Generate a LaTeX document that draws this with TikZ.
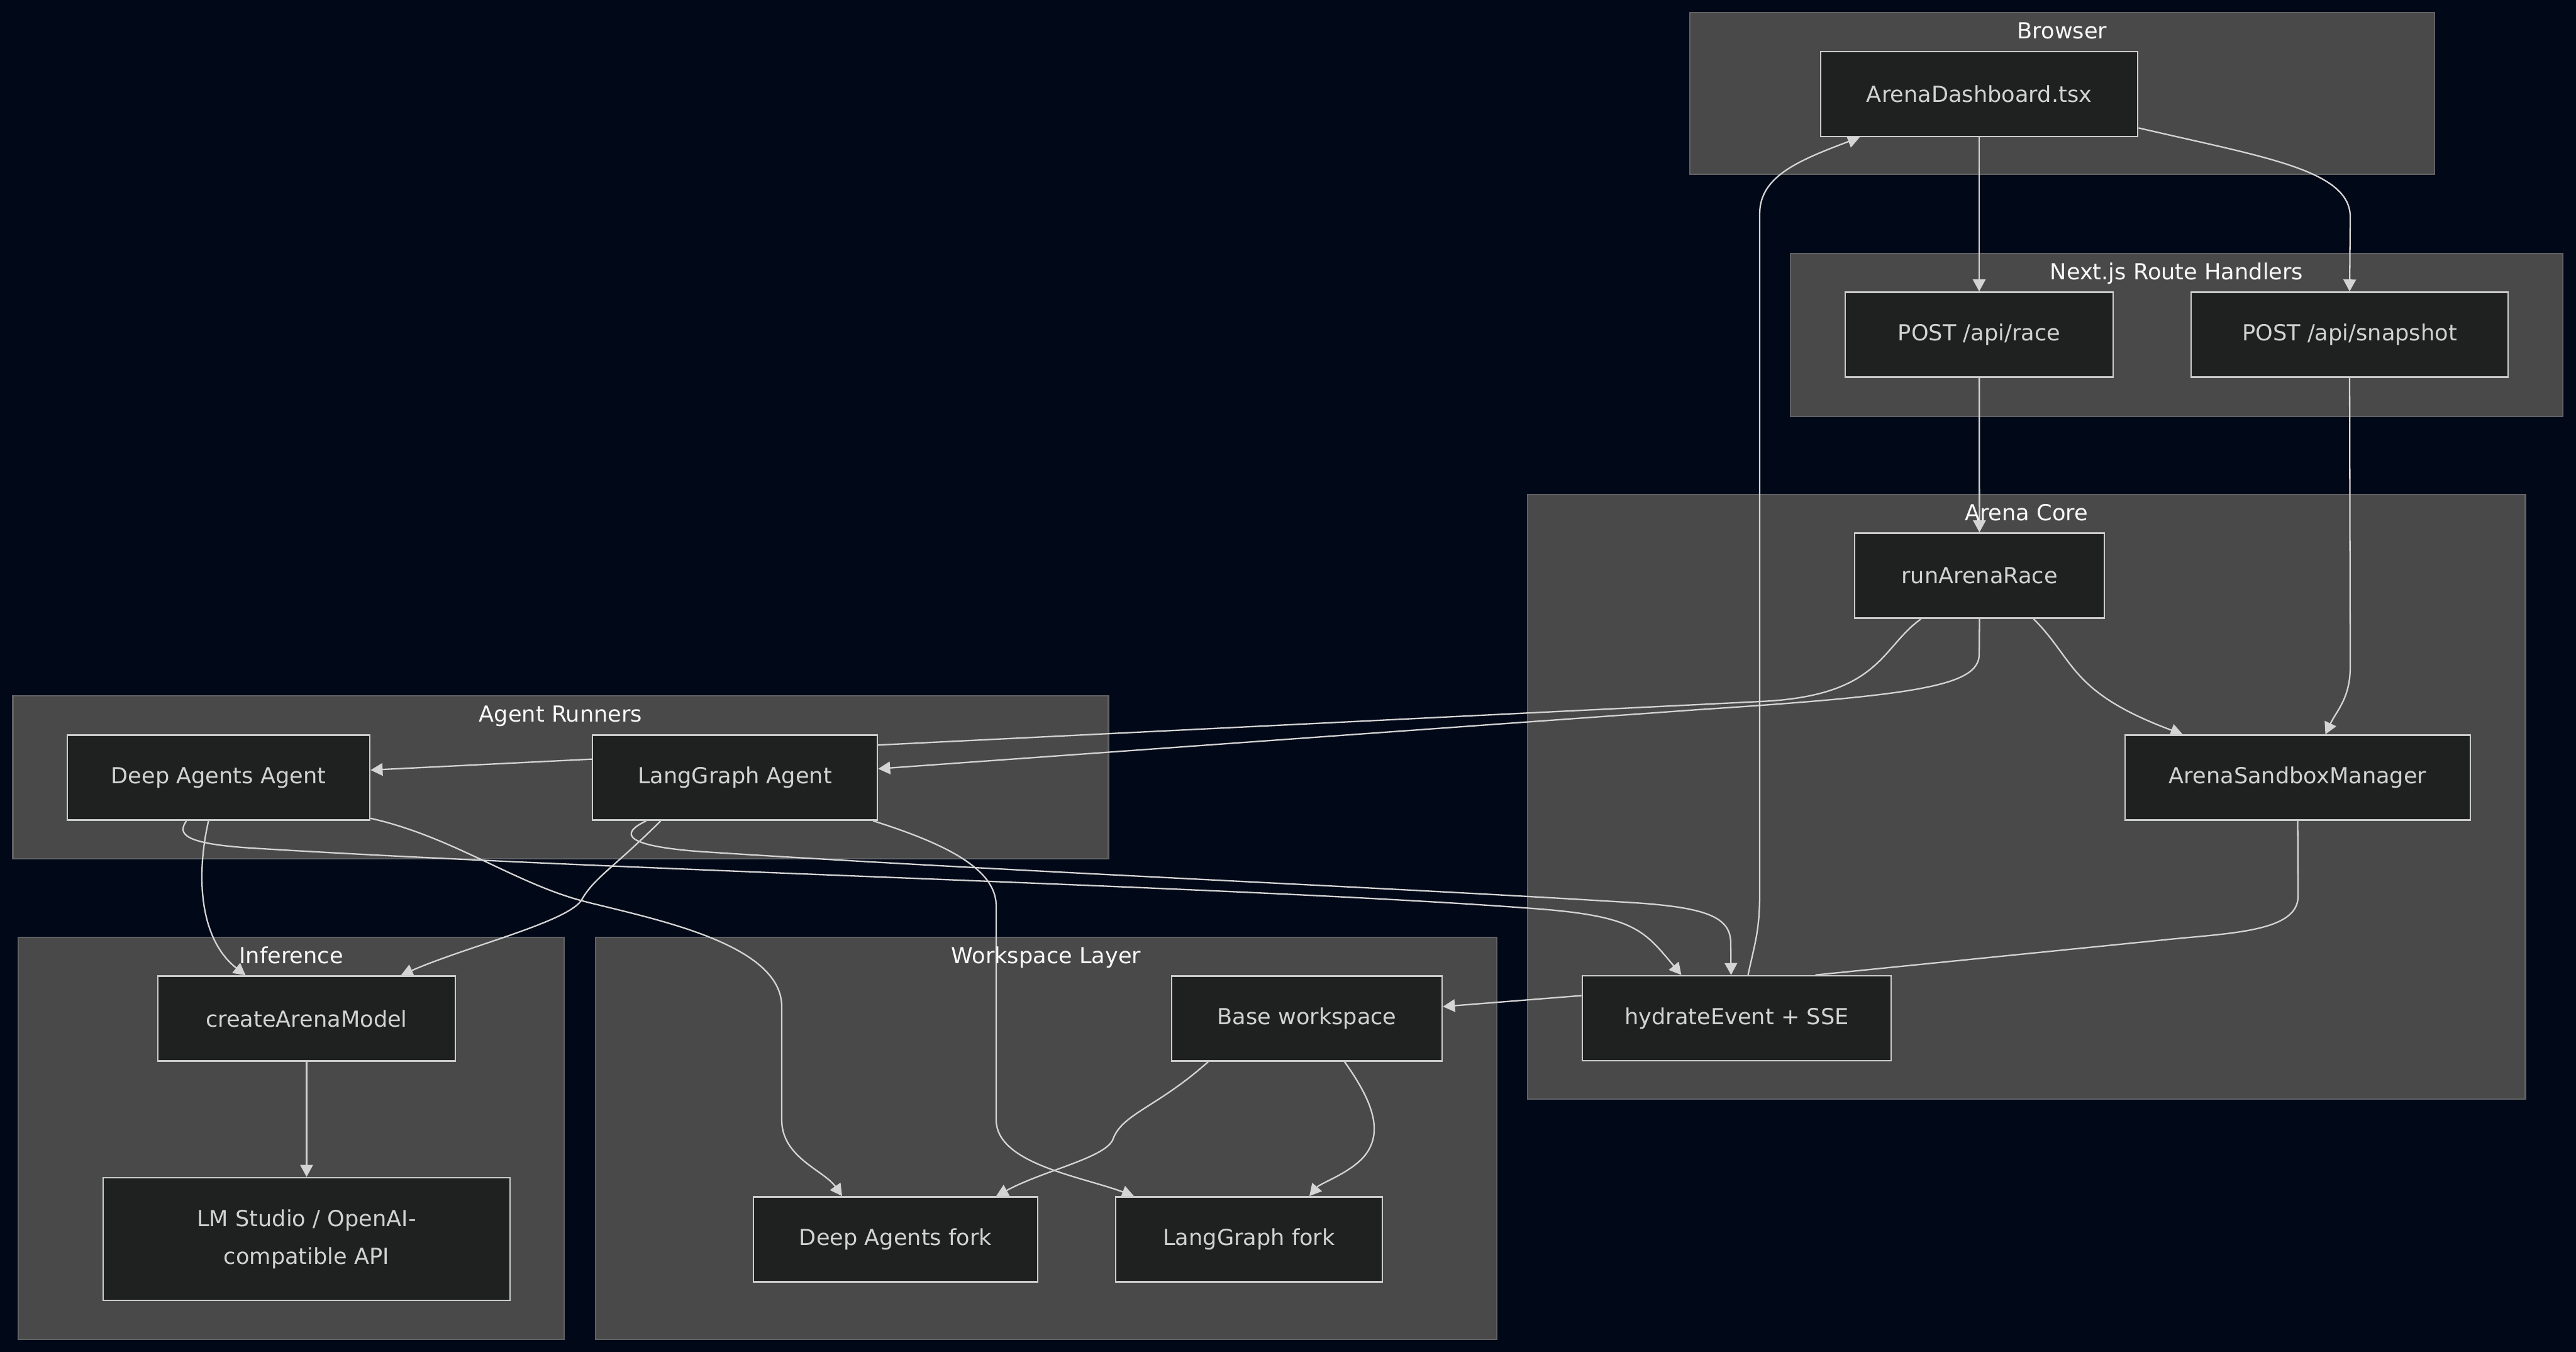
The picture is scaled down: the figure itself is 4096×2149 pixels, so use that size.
\documentclass[tikz,border=0pt]{standalone}
\usepackage{fontspec}
\setsansfont{DejaVu Sans}
\usetikzlibrary{positioning,arrows.meta,calc}

\definecolor{pagebg}{RGB}{1,8,23}
\definecolor{clusterfill}{RGB}{72,73,72}
\definecolor{clusterline}{RGB}{96,98,101}
\definecolor{compfill}{RGB}{31,32,32}
\definecolor{compline}{RGB}{204,204,204}
\definecolor{comptext}{RGB}{210,210,210}
\definecolor{titletext}{RGB}{248,248,248}
\definecolor{flowline}{RGB}{212,212,212}

\pgfdeclarelayer{bg}
\pgfdeclarelayer{edges}
\pgfsetlayers{bg,edges,main}

\begin{document}
\begin{tikzpicture}[
	x=0.01cm, y=-0.01cm,
	font=\sffamily\fontsize{10}{17}\selectfont,
	cluster/.style={
		draw=clusterline,
		line width=0.6pt,
		fill=clusterfill
	},
	title/.style={
		text=titletext,
		inner sep=0pt,
		text height=0.75em,
		text depth=0.2em
	},
	comp/.style={
		draw=compline,
		line width=0.7pt,
		fill=compfill,
		text=comptext,
		minimum height=1.35cm,
		align=center
	},
	flow/.style={draw=flowline, line width=0.65pt, -{Triangle[length=1.9mm,width=2mm]}},
	link/.style={draw=flowline, line width=0.65pt}
	]
	
	\useasboundingbox (0,0) rectangle (4096,2149);
	
	\begin{pgfonlayer}{bg}
		\fill[pagebg] (0,0) rectangle (4096,2149);
		\node[cluster, minimum width=11.84cm, minimum height=2.57cm] (browser) at (3279,148.5) {};
		\node[cluster, minimum width=12.28cm, minimum height=2.59cm] (nextjs) at (3461,532.5) {};
		\node[cluster, minimum width=15.86cm, minimum height=9.61cm] (core) at (3222,1266.5) {};
		\node[cluster, minimum width=17.41cm, minimum height=2.59cm] (runners) at (891.5,1235.5) {};
		\node[cluster, minimum width=8.68cm, minimum height=6.39cm] (inference) at (463,1809.5) {};
		\node[cluster, minimum width=14.33cm, minimum height=6.39cm] (workspace) at (1663.5,1809.5) {};
	\end{pgfonlayer}
	
	\node[title, below=0.16cm of browser.north] {Browser};
	\node[title, below=0.16cm of nextjs.north] {Next.js Route Handlers};
	\node[title, below=0.16cm of core.north] {Arena Core};
	\node[title, below=0.16cm of runners.north] {Agent Runners};
	\node[title, below=0.16cm of inference.north] {Inference};
	\node[title, below=0.16cm of workspace.north] {Workspace Layer};
	
	\node[comp, minimum width=5.04cm] (dash) at (3147,149.5) {ArenaDashboard.tsx};
	\node[comp, minimum width=4.26cm] (race) at (3147,532) {POST /api/race};
	\node[comp, minimum width=5.04cm] (snap) at (3736,532) {POST /api/snapshot};
	\node[comp, minimum width=3.97cm] (run) at (3147.5,915) {runArenaRace};
	\node[comp, minimum width=5.49cm] (sandbox) at (3653.5,1236) {ArenaSandboxManager};
	\node[comp, minimum width=4.91cm] (hydrate) at (2761.5,1618.5) {hydrateEvent + SSE};
	\node[comp, minimum width=4.81cm] (deep) at (347.5,1236) {Deep Agents Agent};
	\node[comp, minimum width=4.53cm] (lang) at (1168.5,1236) {LangGraph Agent};
	\node[comp, minimum width=4.73cm] (create) at (487.5,1619) {createArenaModel};
	\node[comp, minimum width=6.47cm, minimum height=1.95cm] (lm) at (487.5,1969.5) {LM Studio / OpenAI-\\compatible API};
	\node[comp, minimum width=4.30cm] (base) at (2078,1619) {Base workspace};
	\node[comp, minimum width=4.52cm] (dfork) at (1424,1970) {Deep Agents fork};
	\node[comp, minimum width=4.24cm] (lfork) at (1986,1970) {LangGraph fork};
	
	\begin{pgfonlayer}{edges}
		\draw[flow] (dash) -- (race);
		\draw[flow] (dash.-12) .. controls (3600,250) and (3737,270) .. (3737,345) -- (snap.north);
		\draw[flow] (race) -- (run);
		\draw[flow] (snap.south) -- (3737,1060) .. controls (3737,1110) and (3715,1130) .. ($(sandbox.north)+(44,0)$);
		
		\draw[flow] ($(run.south)+(-93,0)$) .. controls (2990,1030) and (2990,1106) .. (2800,1115) -- ($(deep.east)+(0,-12)$);
		\draw[flow] (run.south) -- (3147,1040) .. controls (3147,1090) and (3050,1105) .. (2700,1128) -- ($(lang.east)+(0,-14)$);
		\draw[flow] ($(run.south)+(86,0)$) .. controls (3300,1050) and (3290,1100) .. ($(sandbox.north)+(-183,0)$);
		\draw[link] (sandbox.south) -- (3654,1425) .. controls (3654,1480) and (3550,1483) .. (3450,1493) -- ($(hydrate.north)+(125,0)$);
		\draw[flow] ($(hydrate.north)+(18,0)$) .. controls (2790,1500) and (2798,1480) .. (2798,1420) -- (2798,340) .. controls (2798,280) and (2860,255) .. ($(dash.south)+(-190,0)$);
		\draw[flow] ($(hydrate.west)+(0,-36)$) -- ($(base.east)+(0,-19)$);
		
		\draw[flow] ($(deep.south)+(-51,0)$) .. controls (282,1325) and (290,1341) .. (400,1348) .. controls (1000,1385) and (2000,1410) .. (2450,1445) .. controls (2600,1457) and (2615,1480) .. ($(hydrate.north)+(-88,0)$);
		\draw[flow] ($(lang.south)+(-141,0)$) .. controls (985,1325) and (990,1345) .. (1120,1354) .. controls (1600,1385) and (2200,1410) .. (2600,1435) .. controls (2720,1443) and (2752,1460) .. (2752,1500) -- ($(hydrate.north)+(-9,0)$);
		\draw[flow] ($(deep.south)+(-16,0)$) .. controls (310,1400) and (320,1495) .. ($(create.north)+(-97,0)$);
		\draw[flow] ($(lang.south)+(-118,0)$) .. controls (975,1380) and (945,1395) .. (925,1430) .. controls (905,1465) and (740,1505) .. ($(create.north)+(150,0)$);
		\draw[flow] ($(deep.south east)+(0,-4)$) .. controls (720,1330) and (820,1405) .. (930,1433) .. controls (1040,1461) and (1243,1500) .. (1243,1600) -- (1243,1780) .. controls (1243,1840) and (1310,1860) .. ($(dfork.north)+(-85,0)$);
		\draw[flow] ($(lang.south east)+(-8,0)$) .. controls (1500,1340) and (1584,1380) .. (1584,1440) -- (1584,1780) .. controls (1584,1850) and (1720,1870) .. ($(lfork.north)+(-183,0)$);
		
		\draw[flow] (create) -- (lm);
		\draw[flow] ($(base.south)+(-157,0)$) .. controls (1840,1760) and (1785,1770) .. (1770,1810) .. controls (1760,1840) and (1660,1860) .. ($(dfork.north)+(160,0)$);
		\draw[flow] ($(base.south)+(60,0)$) .. controls (2175,1740) and (2200,1790) .. (2175,1830) .. controls (2155,1862) and (2100,1880) .. ($(lfork.north)+(96,0)$);
	\end{pgfonlayer}
\end{tikzpicture}
\end{document}
